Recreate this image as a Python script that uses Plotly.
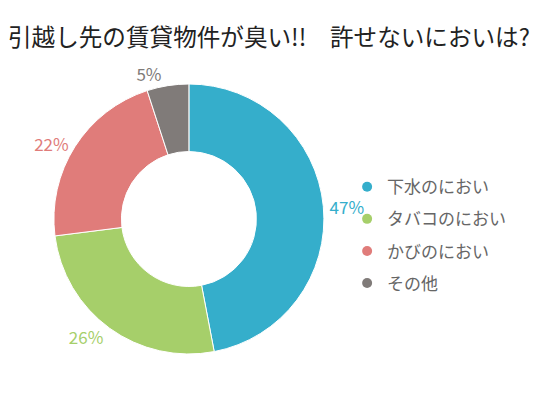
import plotly.graph_objects as go

labels = ["下水のにおい", "タバコのにおい", "かびのにおい", "その他"]
values = [47, 26, 22, 5]
colors = ["#35AECB", "#A6CF6A", "#E07C7A", "#807B79"]

fig = go.Figure()

fig.add_trace(go.Pie(
    labels=labels,
    values=values,
    hole=0.5,
    sort=False,
    direction="clockwise",
    rotation=0,
    marker=dict(colors=colors, line=dict(color="white", width=1)),
    texttemplate="%{value}%",
    textposition="outside",
    textfont=dict(color=colors, size=17),
    showlegend=False,
    domain=dict(x=[0.085, 0.585], y=[0.0, 1.0]),
))

# legend entries with round markers
for i, (name, c) in enumerate(zip(labels, colors)):
    fig.add_trace(go.Scatter(
        x=[None], y=[None], mode="markers", name=name,
        marker=dict(color=c, size=10, symbol="circle"),
        legendgroup=str(i),
    ))

fig.update_layout(
    width=540,
    height=400,
    font=dict(family="Noto Sans CJK JP", color="#666666"),
    title=dict(
        text="引越し先の賃貸物件が臭い!!　許せないにおいは?",
        x=0, xanchor="left", y=0.925, yanchor="middle",
        pad=dict(l=0, r=0, t=0, b=0),
        font=dict(size=23.6, color="#222222"),
    ),
    legend=dict(
        x=0.628, y=0.44, xanchor="left", yanchor="middle",
        bgcolor="rgba(0,0,0,0)",
        font=dict(size=17, color="#666666"),
        tracegroupgap=7, itemwidth=30,
    ),
    xaxis=dict(visible=False),
    yaxis=dict(visible=False),
    plot_bgcolor="white",
    margin=dict(l=0, r=0, t=76, b=54),
    paper_bgcolor="white",
)

fig.write_html("out.html")
